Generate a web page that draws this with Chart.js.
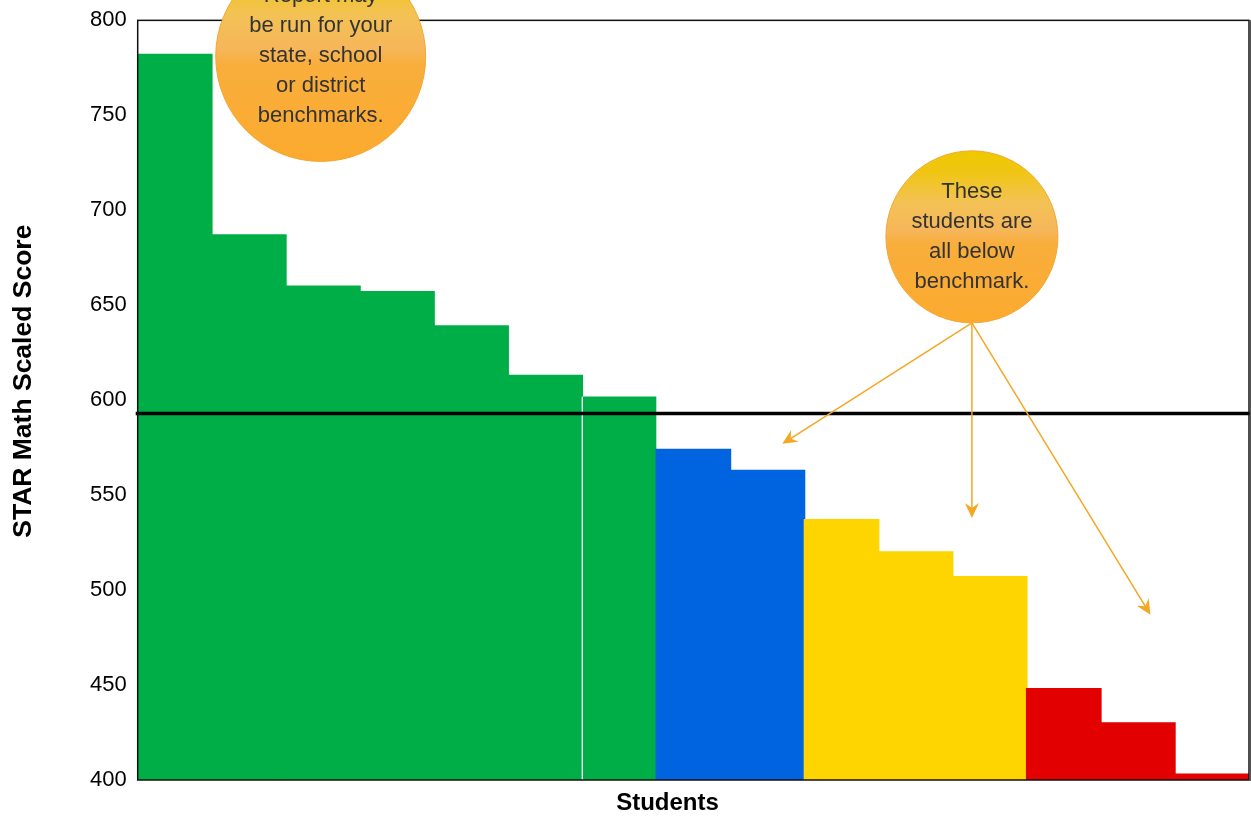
<!DOCTYPE html>
<html>
<head>
<meta charset="utf-8">
<script src="https://cdn.jsdelivr.net/npm/chart.js@4.4.1/dist/chart.umd.min.js"></script>
<style>
    html, body { margin: 0; padding: 0; background: #fff; }
    #wrap { width: 1251px; height: 817px; }
</style>
</head>
<body>
<div id="wrap"><canvas id="chart"></canvas></div>
<script>
// 数据
const students = ['S1', 'S2', 'S3', 'S4', 'S5', 'S6', 'S7', 'S8', 'S9', 'S10', 'S11', 'S12', 'S13', 'S14', 'S15'];
const scores = [782, 687, 660, 657, 639, 613, 602, 574, 563, 537, 520, 507, 448, 430, 403];
const levels = ['above', 'above', 'above', 'above', 'above', 'above', 'above',
    'watch', 'watch', 'intervention', 'intervention', 'intervention', 'urgent', 'urgent', 'urgent'];
const yTicks = [400, 450, 500, 550, 600, 650, 700, 750, 800];
const benchmark = 593;

const levelColors = {
    above: '#00AE47',
    watch: '#0064E1',
    intervention: '#FFD500',
    urgent: '#E20000',
};

// 标注气泡 (x = 类别索引, y = 分数)
const callouts = [
    { x: 1.97, y: 781, r: 105, lines: ['Report may', 'be run for your', 'state, school', 'or district', 'benchmarks.'] },
    { x: 10.76, y: 686, r: 86, lines: ['These', 'students are', 'all below', 'benchmark.'],
      arrows: [{ x: 8.2, y: 577 }, { x: 10.76, y: 538 }, { x: 13.17, y: 487 }] },
];

const FONT = '"Liberation Sans", Arial, sans-serif';

function drawArrow(ctx, x1, y1, x2, y2) {
    const ang = Math.atan2(y2 - y1, x2 - x1);
    const len = 15, half = 7;
    ctx.beginPath();
    ctx.moveTo(x1, y1);
    ctx.lineTo(x2 - Math.cos(ang) * 8, y2 - Math.sin(ang) * 8);
    ctx.stroke();
    const bx = x2 - Math.cos(ang) * len, by = y2 - Math.sin(ang) * len;
    const nx = x2 - Math.cos(ang) * (len - 5), ny = y2 - Math.sin(ang) * (len - 5);
    ctx.beginPath();
    ctx.moveTo(x2, y2);
    ctx.lineTo(bx + Math.sin(ang) * half, by - Math.cos(ang) * half);
    ctx.lineTo(nx, ny);
    ctx.lineTo(bx - Math.sin(ang) * half, by + Math.cos(ang) * half);
    ctx.closePath();
    ctx.fill();
}

const overlayPlugin = {
    id: 'overlay',
    afterDatasetsDraw(chart) {
        const { ctx, chartArea: a, scales: { x, y } } = chart;
        ctx.save();

        // 基准线
        const by = y.getPixelForValue(benchmark);
        ctx.strokeStyle = '#000';
        ctx.lineWidth = 3.5;
        ctx.beginPath();
        ctx.moveTo(a.left - 2, by);
        ctx.lineTo(a.right + 2, by);
        ctx.stroke();

        // 绘图区边框
        ctx.lineWidth = 1.5;
        ctx.strokeStyle = '#111';
        ctx.strokeRect(a.left, a.top, a.right - a.left, a.bottom - a.top);
        ctx.strokeStyle = '#555';
        ctx.beginPath();
        ctx.moveTo(a.right + 1.5, a.top);
        ctx.lineTo(a.right + 1.5, a.bottom + 1);
        ctx.stroke();

        // 轴标题
        ctx.fillStyle = '#000';
        ctx.font = 'bold 24px ' + FONT;
        ctx.textAlign = 'center';
        ctx.textBaseline = 'middle';
        ctx.fillText('Students', chart.width / 2 + 42, a.bottom + 23);
        ctx.save();
        ctx.translate(24, (a.top + a.bottom) / 2 - 19);
        ctx.rotate(-Math.PI / 2);
        ctx.font = 'bold 26.5px ' + FONT;
        ctx.fillText('STAR Math Scaled Score', 0, 0);
        ctx.restore();

        // 箭头和气泡
        callouts.forEach(c => {
            const cx = x.getPixelForValue(c.x);
            const cy = y.getPixelForValue(c.y);
            if (c.arrows) {
                ctx.strokeStyle = '#F5A623';
                ctx.fillStyle = '#F5A623';
                ctx.lineWidth = 1.5;
                c.arrows.forEach(p => {
                    drawArrow(ctx, cx, cy + c.r, x.getPixelForValue(p.x), y.getPixelForValue(p.y));
                });
            }
            const g = ctx.createLinearGradient(0, cy - c.r, 0, cy + c.r);
            g.addColorStop(0, '#EEC800');
            g.addColorStop(0.12, '#F0C612');
            g.addColorStop(0.3, '#F3C255');
            g.addColorStop(0.46, '#F6B65A');
            g.addColorStop(0.54, '#F9AE3C');
            g.addColorStop(1, '#FBAA2E');
            ctx.beginPath();
            ctx.arc(cx, cy, c.r, 0, Math.PI * 2);
            ctx.fillStyle = g;
            ctx.fill();
            ctx.strokeStyle = '#F4A630';
            ctx.lineWidth = 1;
            ctx.stroke();

            ctx.fillStyle = '#333';
            ctx.font = '22px ' + FONT;
            ctx.textAlign = 'center';
            ctx.textBaseline = 'middle';
            const lh = 30;
            const top = cy - (c.lines.length - 1) * lh / 2;
            c.lines.forEach((t, i) => ctx.fillText(t, cx, top + i * lh));
        });
        ctx.restore();
    },
};

new Chart(document.getElementById('chart'), {
    type: 'bar',
    data: {
        labels: students,
        datasets: [{
            data: scores,
            backgroundColor: levels.map(l => levelColors[l]),
            borderColor: '#fff',
            borderWidth: ctx => (ctx.dataIndex === 6 ? { left: 1.5, right: 0, top: 0, bottom: 0 } : 0),
            borderSkipped: false,
            inflateAmount: 0.8,
            barPercentage: 1,
            categoryPercentage: 1,
        }],
    },
    options: {
        responsive: true,
        maintainAspectRatio: false,
        animation: false,
        layout: { padding: { top: 0, right: 2, left: 79, bottom: 29 } },
        plugins: {
            legend: { display: false },
            tooltip: { enabled: false },
        },
        scales: {
            x: {
                grid: { display: false },
                border: { display: false },
                ticks: { display: false },
            },
            y: {
                min: 400,
                max: 800,
                afterBuildTicks: axis => { axis.ticks = yTicks.map(v => ({ value: v })); },
                grid: { display: false, drawTicks: false },
                border: { display: false },
                ticks: {
                    color: '#000',
                    padding: 11,
                    font: { family: FONT, size: 22, lineHeight: 0.85 },
                },
            },
        },
    },
    plugins: [overlayPlugin],
});
</script>
</body>
</html>
